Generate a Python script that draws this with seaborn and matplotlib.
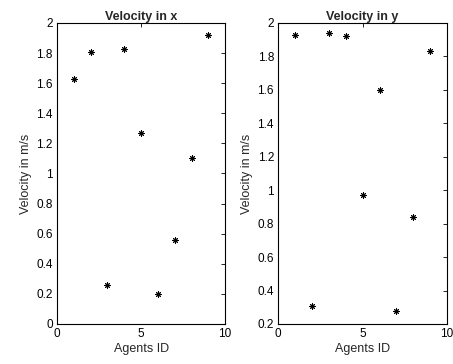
import matplotlib
matplotlib.use("Agg")
import matplotlib.pyplot as plt
import seaborn as sns
import pandas as pd

agents = [1, 2, 3, 4, 5, 6, 7, 8, 9]
vel_x = [1.63, 1.81, 0.26, 1.83, 1.27, 0.20, 0.56, 1.10, 1.92]
vel_y = [1.93, 0.31, 1.94, 1.92, 0.97, 1.60, 0.28, 0.84, 1.83]
x_ticks = [0, 5, 10]
yx_ticks = [0, 0.2, 0.4, 0.6, 0.8, 1.0, 1.2, 1.4, 1.6, 1.8, 2.0]
yy_ticks = [0.2, 0.4, 0.6, 0.8, 1.0, 1.2, 1.4, 1.6, 1.8, 2.0]

sns.set_style("white")
plt.rcParams['font.family'] = ['Liberation Sans', 'DejaVu Sans']

fig = plt.figure(figsize=(4.53, 3.64), dpi=100)
ax1 = fig.add_axes([0.126, 0.110, 0.371, 0.827])
ax2 = fig.add_axes([0.614, 0.110, 0.373, 0.827])

df = pd.DataFrame({"agent": agents, "vx": vel_x, "vy": vel_y})

def fmt(v):
    return f"{v:g}"

for ax, col, yt, title in [(ax1, "vx", yx_ticks, "Velocity in x"),
                           (ax2, "vy", yy_ticks, "Velocity in y")]:
    sns.scatterplot(data=df, x="agent", y=col, ax=ax, marker=(8, 2, 0),
                    color="black", s=16, linewidth=0.7, edgecolor="black")
    ax.set_xlim(0, 10)
    ax.set_ylim(yt[0], yt[-1])
    ax.set_xticks(x_ticks)
    ax.set_xticklabels([fmt(t) for t in x_ticks])
    ax.set_yticks(yt)
    ax.set_yticklabels([fmt(round(t, 1)) for t in yt])
    ax.tick_params(direction="in", length=3, width=0.6, top=True, right=True,
                   labelsize=8.5, colors="black", pad=3)
    for sp in ax.spines.values():
        sp.set_visible(True)
        sp.set_color("black")
        sp.set_linewidth(0.8)
    ax.set_xlabel("Agents ID", fontsize=9, labelpad=2)
    ax.set_ylabel("Velocity in m/s", fontsize=9, labelpad=3)
    ax.set_title(title, fontsize=9, fontweight="bold", pad=2)

fig.savefig("out.png", dpi=100)
